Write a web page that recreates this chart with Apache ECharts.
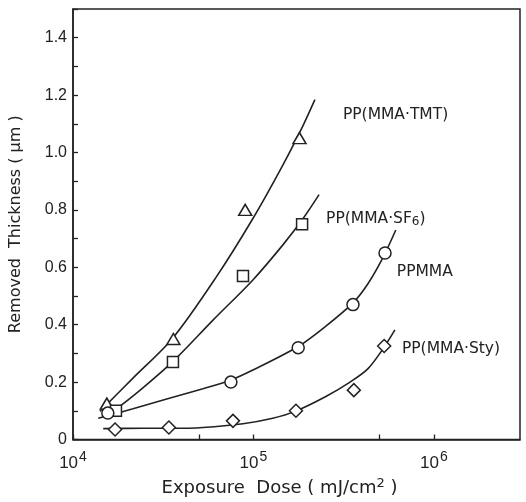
<!DOCTYPE html>
<html>
<head>
<meta charset="utf-8">
<script src="https://cdn.jsdelivr.net/npm/echarts@6/dist/echarts.min.js"></script>
<style>
  html, body { margin: 0; padding: 0; background: #ffffff; }
  #chart { width: 526px; height: 502px; }
</style>
</head>
<body>
<div id="chart"></div>
<script>
// Measured removed thickness (µm) against exposure dose (mJ/cm²)
const tmtDose   = [1.54e4, 3.6e4, 9.0e4, 1.8e5];
const tmtThick  = [0.125, 0.35, 0.80, 1.05];
const sf6Dose   = [1.73e4, 3.58e4, 8.75e4, 1.86e5];
const sf6Thick  = [0.10, 0.27, 0.57, 0.75];
const pmmaDose  = [1.56e4, 7.5e4, 1.77e5, 3.56e5, 5.36e5];
const pmmaThick = [0.092, 0.20, 0.32, 0.47, 0.65];
const styDose   = [1.71e4, 3.4e4, 7.7e4, 1.72e5, 3.6e5, 5.3e5];
const styThick  = [0.035, 0.042, 0.065, 0.10, 0.172, 0.326];

// Hand-drawn trend curves through each data set
const tmtFitDose   = [1.41e4, 2.15e4, 3.58e4, 6.19e4, 9.93e4, 1.46e5, 1.88e5, 2.19e5];
const tmtFitThick  = [0.098, 0.214, 0.354, 0.564, 0.770, 0.958, 1.093, 1.184];
const sf6FitDose   = [1.47e4, 1.73e4, 2.44e4, 3.58e4, 5.97e4, 9.93e4, 1.46e5, 1.88e5, 2.31e5];
const sf6FitThick  = [0.081, 0.106, 0.18, 0.272, 0.416, 0.556, 0.679, 0.769, 0.853];
const pmmaFitDose  = [1.38e4, 2.15e4, 3.27e4, 5.25e4, 7.41e4, 9.93e4, 1.77e5, 2.52e5, 3.56e5, 4.3e5, 5.21e5, 6.15e5];
const pmmaFitThick = [0.074, 0.107, 0.140, 0.177, 0.206, 0.242, 0.324, 0.395, 0.476, 0.542, 0.633, 0.730];
const styFitDose   = [1.47e4, 2.44e4, 3.58e4, 5.25e4, 8.75e4, 1.28e5, 1.70e5, 2.52e5, 3.43e5, 4.3e5, 5.21e5, 6.08e5];
const styFitThick  = [0.038, 0.039, 0.039, 0.042, 0.055, 0.074, 0.098, 0.150, 0.200, 0.246, 0.315, 0.382];

// Axis ticks
const doseTicks  = [1e4, 5e4, 1e5, 5e5, 1e6];
const doseLabels = [1e4, 1e5, 1e6];

const ink = '#222222';
const pairs = (xs, ys) => xs.map((x, i) => [x, ys[i]]);

const labelRich = {
  t:   { fontFamily: 'DejaVu Sans', fontSize: 15.5, color: ink },
  sub: { fontFamily: 'DejaVu Sans', fontSize: 12, color: ink, padding: [7, 0, 0, 0] }
};

function curve(name, xs, ys, text, offset) {
  return {
    name: name,
    type: 'line',
    data: pairs(xs, ys),
    smooth: 0.3,
    showSymbol: false,
    symbol: 'none',
    z: 2,
    lineStyle: { color: ink, width: 1.6 },
    endLabel: {
      show: true,
      distance: 0,
      offset: offset,
      align: 'left',
      verticalAlign: 'middle',
      formatter: () => text,
      rich: labelRich
    },
    silent: true
  };
}

function points(name, xs, ys, symbol, size) {
  return {
    name: name,
    type: 'scatter',
    data: pairs(xs, ys),
    symbol: symbol,
    symbolSize: size,
    z: 5,
    itemStyle: { color: '#ffffff', borderColor: ink, borderWidth: 1.5, opacity: 1 },
    silent: true
  };
}

const chart = echarts.init(document.getElementById('chart'), null, { renderer: 'canvas' });

chart.setOption({
  backgroundColor: '#ffffff',
  animation: false,
  grid: {
    left: 70, top: 9, right: 6, bottom: 58,
    show: true, borderColor: ink, borderWidth: 1.5, backgroundColor: 'transparent'
  },
  xAxis: {
    type: 'log',
    logBase: 10,
    min: 1e4,
    max: 3e6,
    name: '{a|Exposure  Dose ( mJ/cm}{sup|2}{a| )}',
    nameLocation: 'middle',
    nameGap: 38,
    nameTextStyle: {
      padding: [0, 34, 0, 0],
      rich: {
        a:   { fontFamily: 'DejaVu Sans', fontSize: 18, color: ink },
        sup: { fontFamily: 'DejaVu Sans', fontSize: 13, color: ink, padding: [0, 0, 8, 0] }
      }
    },
    axisLine: { show: true, lineStyle: { color: ink, width: 1.5 } },
    axisTick: { show: true, inside: true, length: 5, customValues: doseTicks, lineStyle: { color: ink, width: 1.3 } },
    minorTick: { show: false },
    splitLine: { show: false },
    axisLabel: {
      customValues: doseLabels,
      margin: 9,
      formatter: v => '{b|10}{s|' + Math.round(Math.log10(v)) + '}',
      rich: {
        b: { fontFamily: 'Liberation Sans', fontSize: 17, color: ink, padding: [6, 0, 0, 0] },
        s: { fontFamily: 'Liberation Sans', fontSize: 14, color: ink, padding: [0, 0, 6, 1] }
      }
    }
  },
  yAxis: {
    type: 'value',
    min: 0,
    max: 1.5,
    interval: 0.1,
    name: 'Removed  Thickness ( μm )',
    nameLocation: 'middle',
    nameGap: 49,
    nameTextStyle: { fontFamily: 'DejaVu Sans', fontSize: 16, color: ink },
    axisLine: { show: true, lineStyle: { color: ink, width: 1.5 } },
    axisTick: { show: true, inside: true, length: 5, lineStyle: { color: ink, width: 1.3 } },
    splitLine: { show: false },
    axisLabel: {
      margin: 6,
      fontFamily: 'Liberation Sans',
      fontSize: 16,
      color: ink,
      formatter: v => {
        const k = Math.round(v * 10);
        if (k % 2 !== 0 || k > 14) return '';
        return k === 0 ? '0' : (k / 10).toFixed(1);
      }
    }
  },
  series: [
    curve('TMT fit', tmtFitDose, tmtFitThick, '{t|PP(MMA·TMT)}', [28, 15]),
    curve('SF6 fit', sf6FitDose, sf6FitThick, '{t|PP(MMA·SF}{sub|6}{t|)}', [7, 24]),
    curve('PMMA fit', pmmaFitDose, pmmaFitThick, '{t|PPMMA}', [1, 42]),
    curve('Sty fit', styFitDose, styFitThick, '{t|PP(MMA·Sty)}', [7, 19]),
    points('PP(MMA·TMT)', tmtDose, tmtThick, 'triangle', [13, 11]),
    points('PP(MMA·SF6)', sf6Dose, sf6Thick, 'rect', [11, 11]),
    points('PPMMA', pmmaDose, pmmaThick, 'circle', 12),
    points('PP(MMA·Sty)', styDose, styThick, 'diamond', [13, 13])
  ]
});
</script>
</body>
</html>
